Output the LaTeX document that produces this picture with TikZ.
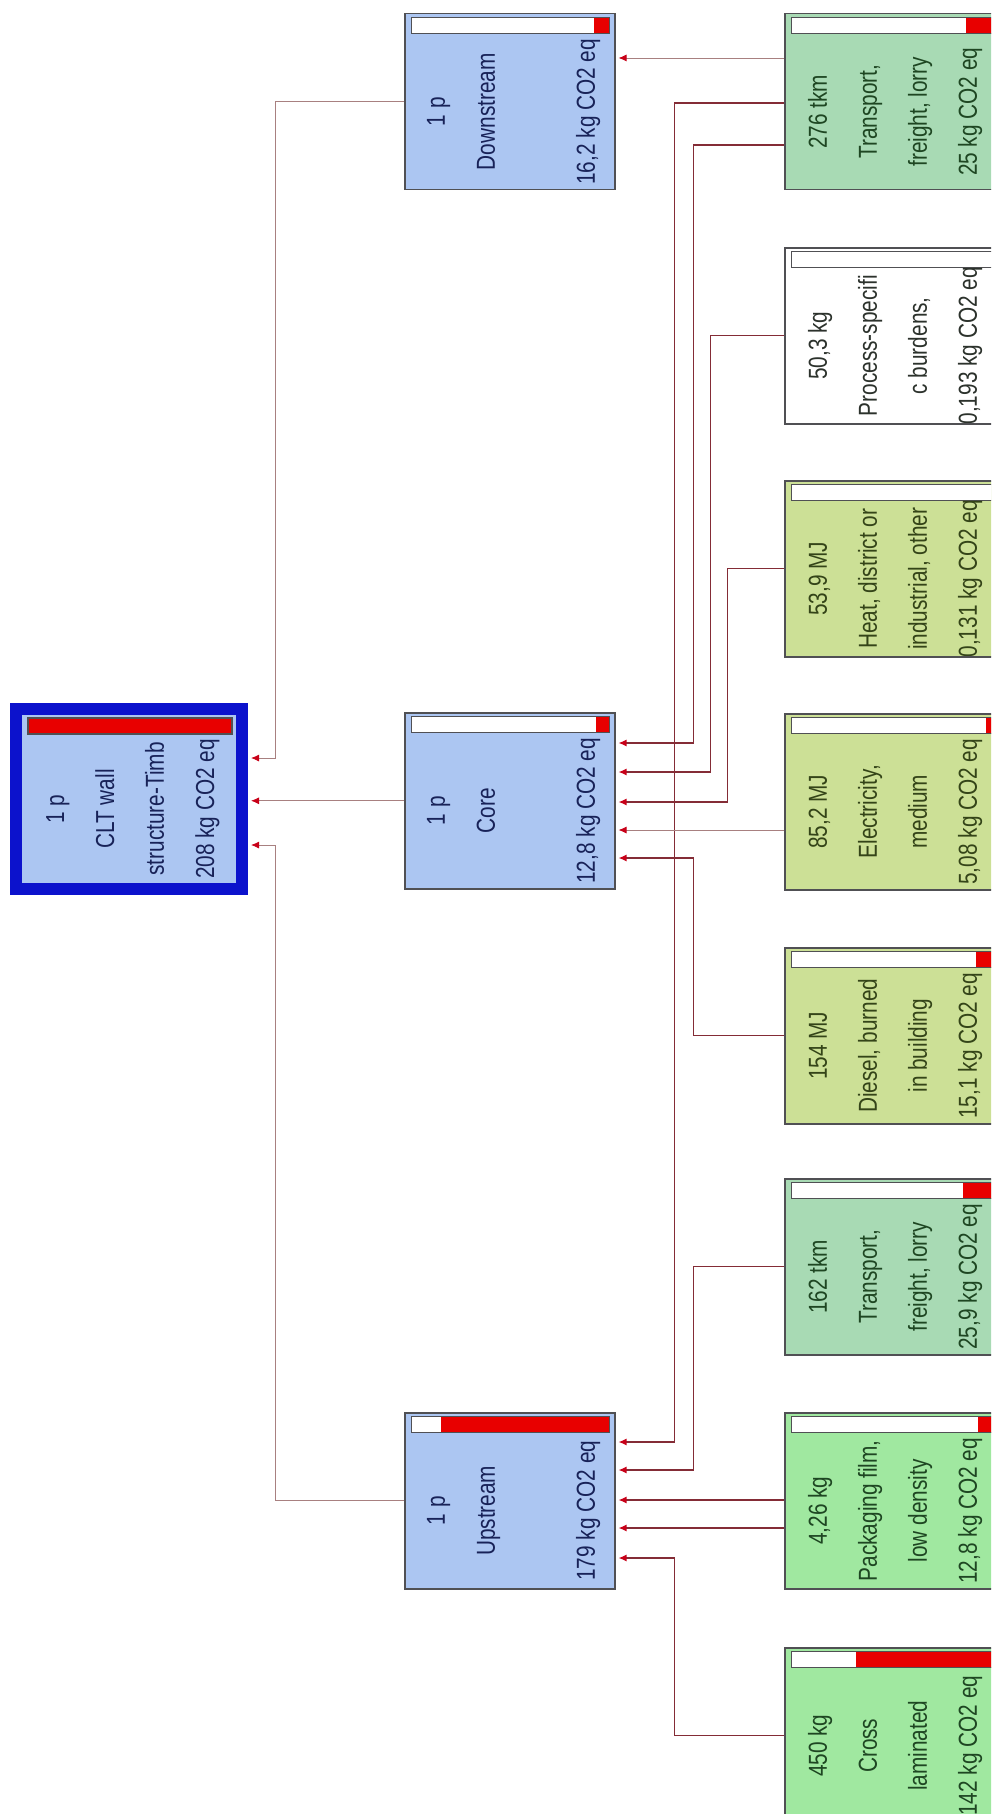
\documentclass[tikz,border=0pt]{standalone}
\usepackage{fontspec}
\usetikzlibrary{arrows.meta}
\newfontfamily\boxfont[FakeStretch=0.8]{Liberation Sans}

\definecolor{procblue}{RGB}{172,198,242}
\definecolor{cltblue}{RGB}{12,18,204}
\definecolor{boxline}{RGB}{80,80,84}
\definecolor{trgreen}{RGB}{168,218,180}
\definecolor{matgreen}{RGB}{160,232,160}
\definecolor{engreen}{RGB}{204,224,150}
\definecolor{barred}{RGB}{232,0,0}
\definecolor{flowred}{RGB}{132,44,54}
\definecolor{thinflow}{RGB}{168,128,128}
\definecolor{tipred}{RGB}{200,0,24}
\definecolor{navytext}{RGB}{24,34,88}
\definecolor{greentext}{RGB}{30,70,34}
\definecolor{olivetext}{RGB}{52,68,24}
\definecolor{greytext}{RGB}{44,50,44}

\tikzset{
  bar inset/.store in=\barinset, bar inset=0pt,
  % #1 red part of the bar, #2 text colour, #3 the four lines
  proc/.style n args={3}{draw=boxline, line width=1.5pt, minimum width=210pt,
    minimum height=176pt, inner sep=0pt, anchor=north west,
    path picture={
      \fill[white] ([xshift=7pt+\barinset, yshift=-4pt-\barinset]path picture bounding box.north west)
        rectangle ([xshift=-5pt-\barinset, yshift=-20pt-\barinset]path picture bounding box.north east);
      \fill[barred] ([xshift=-5pt-\barinset-#1pt, yshift=-4pt-\barinset]path picture bounding box.north east)
        rectangle ([xshift=-5pt-\barinset, yshift=-20pt-\barinset]path picture bounding box.north east);
      \draw[boxline, line width=1.3pt] ([xshift=7pt+\barinset, yshift=-4pt-\barinset]path picture bounding box.north west)
        rectangle ([xshift=-5pt-\barinset, yshift=-20pt-\barinset]path picture bounding box.north east);
      \node[draw=none, fill=none, minimum size=0pt, inner sep=0pt, anchor=center,
            text=#2, path picture={}]
        at ([yshift=-10pt]path picture bounding box.center)
        {\boxfont\fontsize{26}{50}\selectfont\rotatebox{90}{\begin{tabular}{@{}c@{}}#3\end{tabular}}};
    }},
  flow/.style={draw=flowred, line width=1.3pt, shorten >=3pt,
    -{Latex[length=8pt, width=7pt, color=tipred]}},
  flowthin/.style={flow, draw=thinflow, line width=0.9pt},
}

\begin{document}
\begin{tikzpicture}[x=1pt, y=-1pt]
\useasboundingbox (0,0) rectangle (991,1814);
\fill[white] (0,0) rectangle (991,1814);
\clip (0,0) rectangle (991,1814);
\path
(10,703) node[proc={204}{navytext}{1 p\\CLT wall\\structure-Timb\\208 kg CO2 eq},
  fill=procblue, draw=cltblue, line width=12pt, minimum width=226pt,
  minimum height=180pt, bar inset=5pt] (clt) {}
(404,13) node[proc={16}{navytext}{1 p\\Downstream\\ \\16,2 kg CO2 eq}, fill=procblue] (dstream) {}
(404,712) node[proc={14}{navytext}{1 p\\Core\\ \\12,8 kg CO2 eq}, fill=procblue] (core) {}
(404,1412) node[proc={169}{navytext}{1 p\\Upstream\\ \\179 kg CO2 eq}, fill=procblue] (ustream) {}
%right column, cut by the page edge
(784,13) node[proc={28}{greentext}{276 tkm\\Transport,\\freight, lorry\\25 kg CO2 eq},
  fill=trgreen, minimum width=214pt] (t276) {}
(784,247) node[proc={0}{greytext}{50,3 kg\\Process-specifi\\c burdens,\\0,193 kg CO2 eq},
  fill=white, minimum width=214pt] (procsp) {}
(784,480) node[proc={0}{olivetext}{53,9 MJ\\Heat, district or\\industrial, other\\0,131 kg CO2 eq},
  fill=engreen, minimum width=214pt] (heat) {}
(784,713) node[proc={8}{olivetext}{85,2 MJ\\Electricity,\\medium\\5,08 kg CO2 eq},
  fill=engreen, minimum width=214pt] (elec) {}
(784,947) node[proc={18}{olivetext}{154 MJ\\Diesel, burned\\in building\\15,1 kg CO2 eq},
  fill=engreen, minimum width=214pt] (diesel) {}
(784,1178) node[proc={31}{greentext}{162 tkm\\Transport,\\freight, lorry\\25,9 kg CO2 eq},
  fill=trgreen, minimum width=214pt] (t162) {}
(784,1412) node[proc={16}{greentext}{4,26 kg\\Packaging film,\\low density\\12,8 kg CO2 eq},
  fill=matgreen, minimum width=214pt] (pack) {}
(784,1647) node[proc={138}{greentext}{450 kg\\Cross\\laminated\\142 kg CO2 eq},
  fill=matgreen, minimum width=214pt] (cross) {};
%into the top process
\draw[flowthin] (dstream.west) -| ([xshift=27pt,yshift=-55pt]clt.north east) -- ([yshift=-55pt]clt.north east);
\draw[flowthin] (core.west) -- (core.west -| clt.east);
\draw[flowthin] (ustream.west) -| ([xshift=27pt,yshift=-142pt]clt.north east) -- ([yshift=-142pt]clt.north east);
%into downstream, core and upstream
\draw[flowthin] ([yshift=-45pt]t276.north west) -- ([yshift=-45pt]dstream.north east);
\draw[flow] ([yshift=-90pt]t276.north west) -| ([xshift=59pt,yshift=-30pt]ustream.north east) -- ([yshift=-30pt]ustream.north east);
\draw[flow] ([yshift=-132pt]t276.north west) -| ([xshift=78pt,yshift=-31pt]core.north east) -- ([yshift=-31pt]core.north east);
\draw[flow] (procsp.west) -| ([xshift=95pt,yshift=-60pt]core.north east) -- ([yshift=-60pt]core.north east);
\draw[flow] (heat.west) -| ([xshift=112pt,yshift=-90pt]core.north east) -- ([yshift=-90pt]core.north east);
\draw[flowthin] ([yshift=-117pt]elec.north west) -- ([yshift=-118pt]core.north east);
\draw[flow] (diesel.west) -| ([xshift=78pt,yshift=-146pt]core.north east) -- ([yshift=-146pt]core.north east);
\draw[flow] (t162.west) -| ([xshift=78pt,yshift=-58pt]ustream.north east) -- ([yshift=-58pt]ustream.north east);
\draw[flow] ([yshift=-88pt]pack.north west) -- ([yshift=-88pt]ustream.north east);
\draw[flow] ([yshift=-116pt]pack.north west) -- ([yshift=-116pt]ustream.north east);
\draw[flow] (cross.west) -| ([xshift=59pt,yshift=-146pt]ustream.north east) -- ([yshift=-146pt]ustream.north east);
\end{tikzpicture}
\end{document}
